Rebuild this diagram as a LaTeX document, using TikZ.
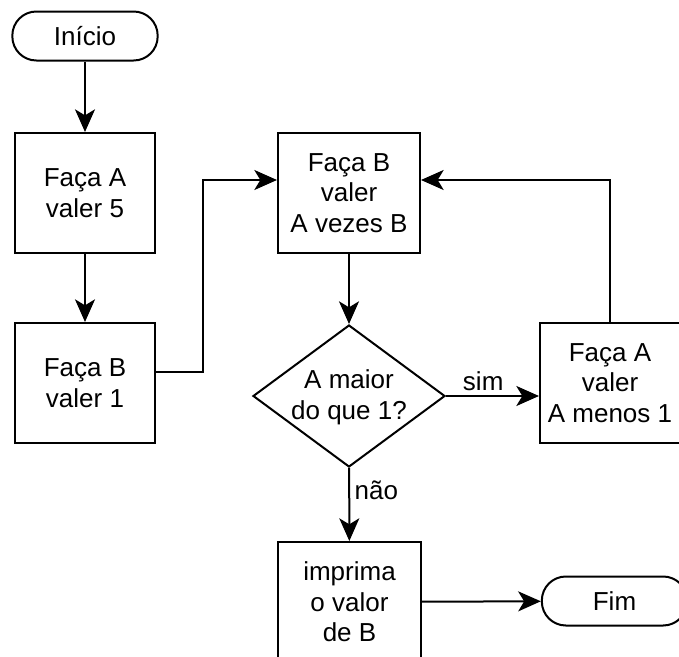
\documentclass[tikz,border=0pt]{standalone}
\usepackage{fontspec}
\setmainfont{Liberation Sans}
\usetikzlibrary{arrows.meta,shapes.geometric}

\begin{document}
\begin{tikzpicture}[x=0.75pt,y=-0.75pt,line width=1.5pt,
    every node/.style={font=\fontsize{19.5}{23}\selectfont,align=center},
    caixa/.style={draw,rectangle,minimum width=105pt,minimum height=90pt,inner sep=2pt},
    terminal/.style={draw,rectangle,rounded corners=18pt,minimum width=109pt,minimum height=36.75pt},
    decisao/.style={draw,diamond,minimum width=144pt,minimum height=106.5pt,inner sep=0},
    seta/.style={-{Stealth[length=17pt,width=15pt,inset=4.5pt]}}]
        \useasboundingbox (0,0) rectangle (679,657);
        \node[terminal] (inicio) at (85,36) {Início};
        \node[caixa] (fazA5) at (85,193) {Faça A\\valer 5};
        \node[caixa] (fazB1) at (85,383) {Faça B\\valer 1};
        \node[caixa,minimum width=106.5pt] (vezes) at (349,193) {Faça B\\valer\\A vezes B};
        \node[decisao] (teste) at (349,396) {};
        \node at (349,397) {A maior\\do que 1?};
        \node[caixa] (menos) at (610,383) {Faça A\\valer\\A menos 1};
        \node[caixa,minimum width=107pt] (imprima) at (349.5,602) {imprima\\o valor\\de B};
        \node[terminal] (fim) at (614.5,601) {Fim};
        \draw[seta] (inicio) -- (fazA5);
        \draw[seta] (fazA5) -- (fazB1);
        \draw[seta] ([yshift=8pt]fazB1.east) -- ++(35pt,0) |- ([yshift=9.75pt]vezes.west);
        \draw[seta] (vezes) -- (teste);
        \draw[seta] (teste.east) -- node[above,pos=0.4] {sim} (teste.east -| menos.west);
        \draw[seta] (menos.north) |- ([yshift=9.75pt]vezes.east);
        \draw[seta] (teste) -- node[right,pos=0.3] {não} (imprima);
        \draw[seta] (imprima) -- (fim);
      \end{tikzpicture}
\end{document}
